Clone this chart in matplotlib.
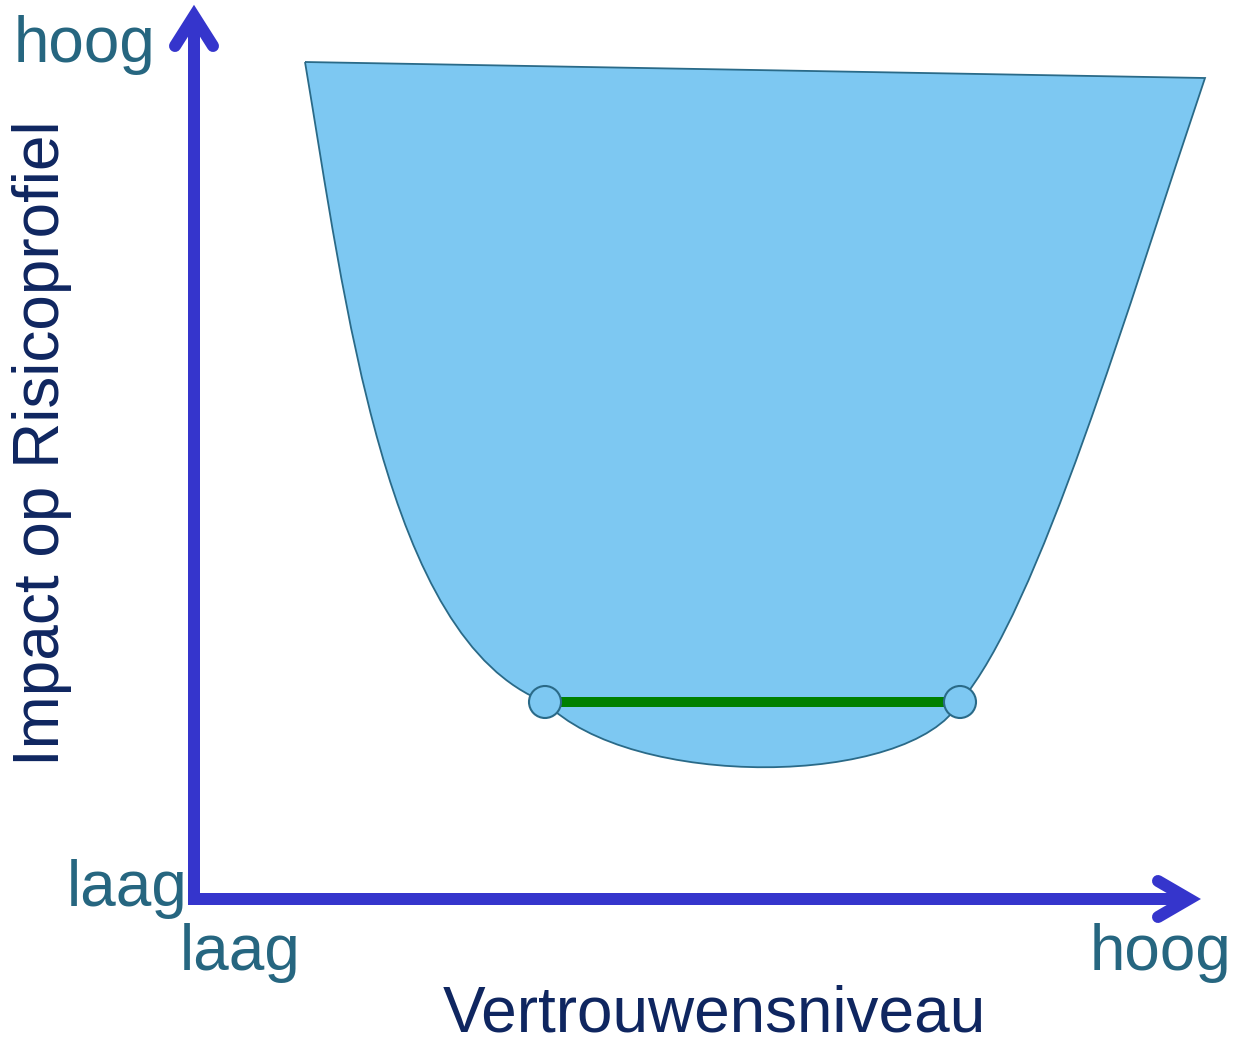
import matplotlib
matplotlib.use("Agg")
import matplotlib.pyplot as plt
from matplotlib.path import Path
from matplotlib.patches import PathPatch, Circle

plt.rcParams["font.family"] = ["Liberation Sans", "DejaVu Sans"]

W, H = 1235, 1044
PX = 72 / 100  # pixel -> points at dpi 100

# outline of the blue zone (pixel coords, bezier control points)
zone_top = [(305, 62), (1205, 78)]
zone_right = [(1130, 300), (1038, 612), (960, 702)]
zone_bottom = [(910, 788), (630, 790), (545, 702)]
zone_left = [(385, 640), (345, 300), (305, 62)]

# green segment and its end points
seg_x = [545, 960]
seg_y = [702, 702]
dot_r = 16

# axis arrows
corner = (194, 899)
y_tip = (194, 16)
x_tip = (1189, 899)

axis_col = "#3535CC"
lab_col = "#266680"
title_col = "#0F2660"

fig = plt.figure(figsize=(W / 100, H / 100), dpi=100)
ax = fig.add_axes([0, 0, 1, 1])
ax.set_xlim(0, W)
ax.set_ylim(H, 0)
ax.axis("off")

verts = zone_top + zone_right + zone_bottom + zone_left
codes = ([Path.MOVETO, Path.LINETO] + [Path.CURVE4] * 3 + [Path.CURVE4] * 3
         + [Path.CURVE4] * 3)
ax.add_patch(PathPatch(Path(verts, codes), facecolor="#7DC8F2",
                       edgecolor="#2A6A88", lw=1.3, zorder=1))

ax.plot(seg_x, seg_y, color="#008000", lw=10 * PX, solid_capstyle="butt", zorder=2)
for x, y in zip(seg_x, seg_y):
    ax.add_patch(Circle((x, y), dot_r, facecolor="#7DC8F2", edgecolor="#2A6A88",
                        lw=1.5, zorder=3))

# axes lines
ax.plot([y_tip[0], corner[0], x_tip[0]], [y_tip[1] + 5, corner[1], x_tip[1]],
        color=axis_col, lw=12 * PX, solid_joinstyle="miter", solid_capstyle="butt", zorder=4)
ax.plot([y_tip[0] - 19, y_tip[0], y_tip[0] + 19], [y_tip[1] + 30, y_tip[1], y_tip[1] + 30],
        color=axis_col, lw=12 * PX, solid_joinstyle="miter", solid_capstyle="round", zorder=4)
ax.plot([x_tip[0] - 31, x_tip[0], x_tip[0] - 31], [x_tip[1] - 18, x_tip[1], x_tip[1] + 18],
        color=axis_col, lw=12 * PX, solid_joinstyle="miter", solid_capstyle="round", zorder=4)

fs = 46
ax.text(85, 62, "hoog", color=lab_col, fontsize=fs, ha="center", va="baseline")
ax.text(127, 906, "laag", color=lab_col, fontsize=fs, ha="center", va="baseline")
ax.text(240, 970, "laag", color=lab_col, fontsize=fs, ha="center", va="baseline")
ax.text(1161, 970, "hoog", color=lab_col, fontsize=fs, ha="center", va="baseline")
ax.text(714, 1032, "Vertrouwensniveau", color=title_col, fontsize=fs, ha="center", va="baseline")
ax.text(42, 443, "Impact op Risicoprofiel", color=title_col, fontsize=fs, ha="center",
        va="center", rotation=90)

fig.savefig("out.png", dpi=100)
